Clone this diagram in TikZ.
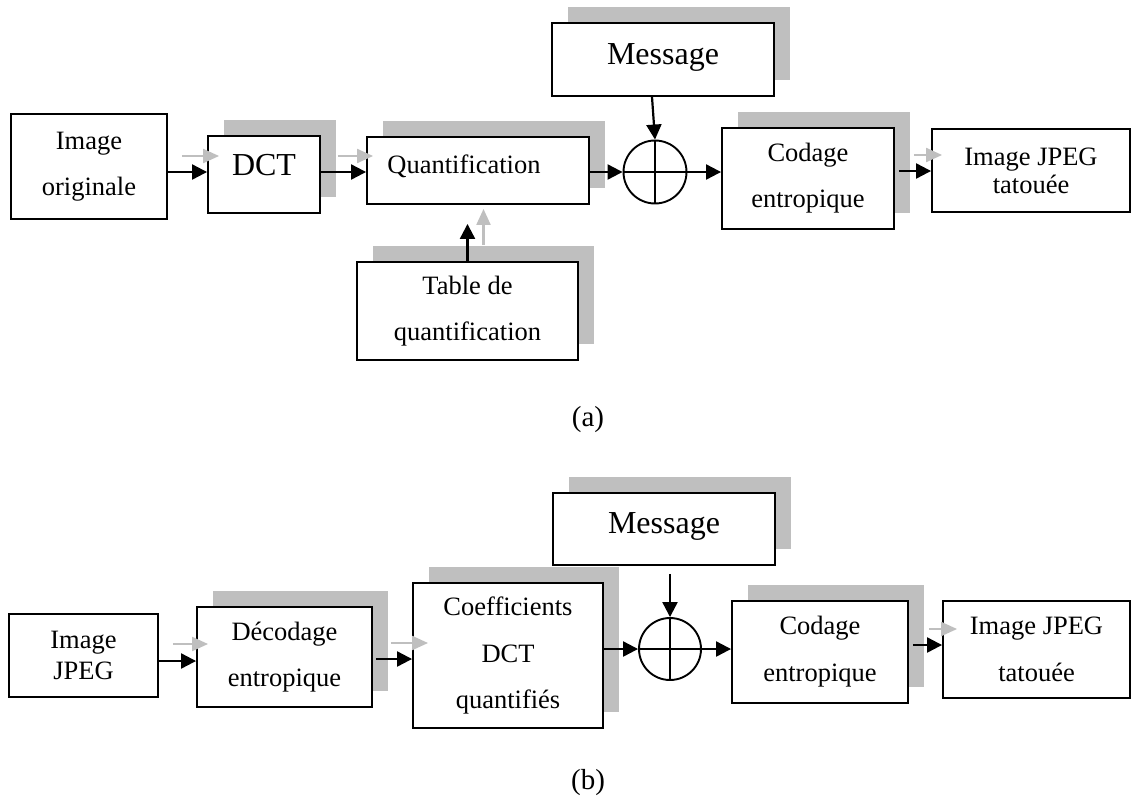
\documentclass[tikz,border=0pt]{standalone}
\usepackage{fontspec}
\setmainfont{Liberation Serif}
\usetikzlibrary{arrows.meta,calc,shadows}
\definecolor{shade}{HTML}{BFBFBF}
\tikzset{
  box/.style={draw, line width=1.9pt, fill=white, inner sep=0pt, align=center,
    font=\fontsize{26.5}{46}\selectfont},
  shbox/.style={box, general shadow={fill=shade, shadow xshift=16pt, shadow yshift=16pt}},
  big/.style={font=\fontsize{32}{38}\selectfont},
  arr/.style={line width=2.2pt, -{Triangle[length=15pt,width=15pt]}},
  garr/.style={draw=shade, line width=2.2pt, -{Triangle[length=16pt,width=14pt]}},
  sum/.style={circle, draw, line width=1.9pt, fill=white, minimum size=63pt, inner sep=0pt},
  caption/.style={font=\fontsize{29}{32}\selectfont},
}
\begin{document}
\begin{tikzpicture}[x=1pt,y=-1pt]
\useasboundingbox (0,0) rectangle (1132,798);

% ---------- (a) insertion ----------
\coordinate (ya) at (0,172);
\node[box, minimum width=156pt, minimum height=105pt] (imgA) at (89,166.5) {Image\\originale};
\node[shbox, big, minimum width=112pt, minimum height=77pt] (dctA) at (264,174.5) {\raisebox{9pt}[\height][\depth]{DCT}};
\node[shbox, minimum width=222pt, minimum height=67pt] (quantA) at (478,170.5) {\raisebox{4pt}[\height][\depth]{Quantification}\kern28pt};
\node[shbox, big, minimum width=222pt, minimum height=73pt] (msgA) at (663,59.5) {\raisebox{2pt}[\height][\depth]{Message}};
\node[sum] (sumA) at (655,172) {};
\draw[line width=1.9pt] (sumA.north) -- (sumA.south) (sumA.west) -- (sumA.east);
\node[shbox, minimum width=172pt, minimum height=101pt] (codA) at (808,178.5) {Codage\\entropique};
\node[box, font=\fontsize{26.5}{28}\selectfont, minimum width=198pt, minimum height=83pt] (ijtA) at (1031,170.5) {Image JPEG\\tatouée};
\node[shbox, minimum width=221pt, minimum height=98pt] (tabA) at (467.5,311) {Table de\\quantification};

\draw[arr] (imgA.east |- ya) -- (dctA.west |- ya);
\draw[arr] (dctA.east |- ya) -- (quantA.west |- ya);
\draw[arr] (quantA.east |- ya) -- (sumA.west);
\draw[arr] ([xshift=-11pt]msgA.south) -- (sumA.north);
\draw[arr] (sumA.east) -- (codA.west |- ya);
\draw[arr] ($(codA.east |- ya)+(4,-1)$) -- ($(ijtA.west |- ya)+(0,-1)$);
\draw[arr] (tabA.north) -- ($(quantA.south -| tabA.north)+(0,19)$);

\draw[garr] ($(imgA.east |- ya)+(14,-16)$) -- ($(dctA.west |- ya)+(12,-16)$);
\draw[garr] ($(dctA.east |- ya)+(17,-16)$) -- ($(quantA.west |- ya)+(7,-16)$);
\draw[garr] ($(codA.east |- ya)+(19,-17)$) -- ($(ijtA.west |- ya)+(11,-17)$);
\draw[garr] ($(tabA.north)+(16,-16)$) -- ($(quantA.south -| tabA.north)+(16,4)$);

\node[caption] (capA) at (588,420) {(a)};

% ---------- (b) extraction ----------
\coordinate (yb1) at (0,661);
\coordinate (yb2) at (0,659);
\coordinate (yb4) at (0,645);
\node[box, font=\fontsize{26.5}{31}\selectfont, minimum width=149pt, minimum height=83pt] (ijB) at (83.5,655.5) {Image\\JPEG};
\node[shbox, minimum width=175pt, minimum height=100pt] (decB) at (284.5,657) {Décodage\\entropique};
\node[shbox, font=\fontsize{26.5}{46.5}\selectfont, minimum width=190pt, minimum height=145pt] (coefB) at (508,655.5) {Coefficients\\DCT\\quantifiés};
\node[shbox, big, minimum width=222pt, minimum height=72pt] (msgB) at (664,529) {\raisebox{3pt}[\height][\depth]{Message}};
\node[sum, minimum size=62pt] (sumB) at (670,649) {};
\draw[line width=1.9pt] (sumB.north) -- (sumB.south) (sumB.west) -- (sumB.east);
\node[shbox, font=\fontsize{26.5}{47}\selectfont, minimum width=176pt, minimum height=102pt] (codB) at (820,652) {Codage\\entropique};
\node[box, font=\fontsize{26.5}{47}\selectfont, minimum width=187pt, minimum height=97pt] (ijtB) at (1036.5,649.5) {Image JPEG\\tatouée};

\draw[arr] (ijB.east |- yb1) -- (decB.west |- yb1);
\draw[arr] ($(decB.east |- yb2)+(3,0)$) -- (coefB.west |- yb2);
\draw[arr] (coefB.east |- sumB) -- (sumB.west);
\draw[arr] ($(sumB.north |- msgB.south)+(0,8)$) -- (sumB.north);
\draw[arr] (sumB.east) -- (codB.west |- sumB);
\draw[arr] ($(codB.east |- yb4)+(4,0)$) -- (ijtB.west |- yb4);

\draw[garr] ($(ijB.east |- yb1)+(14,-17)$) -- ($(decB.west |- yb1)+(12,-17)$);
\draw[garr] ($(decB.east |- yb2)+(18,-16)$) -- ($(coefB.west |- yb2)+(16,-16)$);
\draw[garr] ($(codB.east |- yb4)+(20,-16)$) -- ($(ijtB.west |- yb4)+(15,-16)$);

\node[caption] (capB) at (588,783) {(b)};
\end{tikzpicture}
\end{document}
